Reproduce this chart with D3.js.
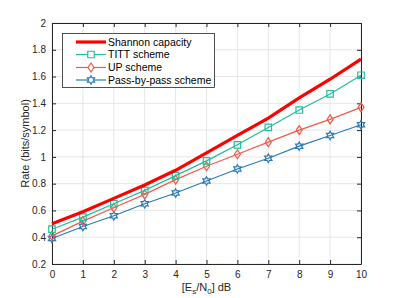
<!DOCTYPE html>
<html>
<head>
<meta charset="utf-8">
<script src="https://d3js.org/d3.v7.min.js"></script>
<style>
  body { margin: 0; background: #fff; }
  text { font-family: "Liberation Sans", Arial, sans-serif; }
</style>
</head>
<body>
<script>
var snr = [0, 1, 2, 3, 4, 5, 6, 7, 8, 9, 10];
var shannon = [0.50, 0.59, 0.69, 0.79, 0.90, 1.03, 1.16, 1.29, 1.44, 1.58, 1.73];
var titt = [0.46, 0.55, 0.65, 0.75, 0.86, 0.97, 1.09, 1.22, 1.35, 1.47, 1.61];
var up = [0.41, 0.52, 0.62, 0.72, 0.83, 0.93, 1.02, 1.11, 1.20, 1.28, 1.37];
var pbp = [0.39, 0.48, 0.56, 0.65, 0.73, 0.82, 0.91, 0.99, 1.08, 1.16, 1.24];
var xTicks = [0, 1, 2, 3, 4, 5, 6, 7, 8, 9, 10];
var yTicks = [0.2, 0.4, 0.6, 0.8, 1, 1.2, 1.4, 1.6, 1.8, 2];

var W = 399, H = 298;
var m = {left: 52, right: 38, top: 23, bottom: 34};

var svg = d3.select("body").append("svg")
  .attr("width", W).attr("height", H);

var x = d3.scaleLinear().domain([0, 10]).range([m.left, W - m.right]);
var y = d3.scaleLinear().domain([0.2, 2]).range([H - m.bottom, m.top]);

// grid
svg.append("g").selectAll("line").data(xTicks).enter().append("line")
  .attr("x1", d => x(d)).attr("x2", d => x(d))
  .attr("y1", y(0.2)).attr("y2", y(2))
  .attr("stroke", "#e6e6e6").attr("stroke-width", 1);
svg.append("g").selectAll("line").data(yTicks).enter().append("line")
  .attr("y1", d => y(d)).attr("y2", d => y(d))
  .attr("x1", x(0)).attr("x2", x(10))
  .attr("stroke", "#e6e6e6").attr("stroke-width", 1);

// axes
function styleAxis(g) {
  g.select(".domain").attr("stroke", "#262626");
  g.selectAll(".tick line").attr("stroke", "#262626");
  g.selectAll("text").attr("fill", "#262626").style("font-size", "10px")
    .style("font-family", "Liberation Sans, Arial, sans-serif");
}
svg.append("g").attr("transform", "translate(0," + y(0.2) + ")")
  .call(d3.axisBottom(x).tickValues(xTicks).tickSize(-4).tickSizeOuter(0).tickPadding(7))
  .call(styleAxis);
svg.append("g").attr("transform", "translate(0," + y(2) + ")")
  .call(d3.axisTop(x).tickValues(xTicks).tickSize(-4).tickSizeOuter(0).tickFormat(""))
  .call(styleAxis);
svg.append("g").attr("transform", "translate(" + x(0) + ",0)")
  .call(d3.axisLeft(y).tickValues(yTicks).tickSize(-4).tickSizeOuter(0).tickPadding(6)
    .tickFormat(d => d3.format("")(+d.toFixed(1))))
  .call(styleAxis);
svg.append("g").attr("transform", "translate(" + x(10) + ",0)")
  .call(d3.axisRight(y).tickValues(yTicks).tickSize(-4).tickSizeOuter(0).tickFormat(""))
  .call(styleAxis);

// labels
var xl = svg.append("text").attr("x", (x(0) + x(10)) / 2).attr("y", 291)
  .attr("text-anchor", "middle").attr("fill", "#262626").style("font-size", "11px");
xl.append("tspan").text("[E");
xl.append("tspan").text("s").attr("dy", 3).style("font-size", "8px");
xl.append("tspan").text("/N").attr("dy", -3);
xl.append("tspan").text("0").attr("dy", 3).style("font-size", "8px");
xl.append("tspan").text("] dB").attr("dy", -3);

svg.append("text")
  .attr("transform", "translate(29," + ((y(0.2) + y(2)) / 2) + ") rotate(-90)")
  .attr("text-anchor", "middle").attr("fill", "#262626").style("font-size", "11px")
  .text("Rate (bits/symbol)");

var series = [
  {name: "Shannon capacity", vals: shannon, color: "#ff0000", width: 3.2, marker: null},
  {name: "TITT scheme", vals: titt, color: "#1fc09b", width: 1.2, marker: "square"},
  {name: "UP scheme", vals: up, color: "#f25a48", width: 1.2, marker: "diamond"},
  {name: "Pass-by-pass scheme", vals: pbp, color: "#2a7bb8", width: 1.2, marker: "star"}
];

function markerPath(type) {
  if (type === "square") return d3.symbol().type(d3.symbolSquare).size(42)();
  if (type === "diamond") {
    return "M0,-4.5L3,0L0,4.5L-3,0Z";
  }
  // hexagram
  var pts = [];
  for (var i = 0; i < 12; i++) {
    var r = i % 2 === 0 ? 4.2 : 2.4;
    var a = -Math.PI / 2 + i * Math.PI / 6;
    pts.push([r * Math.cos(a), r * Math.sin(a)]);
  }
  return "M" + pts.join("L") + "Z";
}

var line = d3.line().x((d, i) => x(snr[i])).y(d => y(d));

series.slice().reverse().forEach(function(s) {
  svg.append("path").datum(s.vals)
    .attr("d", line).attr("fill", "none")
    .attr("stroke", s.color).attr("stroke-width", s.width);
  if (s.marker) {
    svg.append("g").selectAll("path").data(s.vals).enter().append("path")
      .attr("d", markerPath(s.marker))
      .attr("transform", (d, i) => "translate(" + x(snr[i]) + "," + y(d) + ")")
      .attr("fill", "none").attr("stroke", s.color).attr("stroke-width", 1.2);
  }
});

// legend
var lg = svg.append("g");
lg.append("rect").attr("x", 62.5).attr("y", 33.5).attr("width", 152).attr("height", 54)
  .attr("fill", "#fff").attr("stroke", "#262626").attr("stroke-width", 0.8);
var rowsY = [42, 54.5, 67.5, 80];
series.forEach(function(s, i) {
  var ly = rowsY[i];
  lg.append("line").attr("x1", 76).attr("x2", 106).attr("y1", ly).attr("y2", ly)
    .attr("stroke", s.color).attr("stroke-width", s.width);
  if (s.marker) {
    lg.append("path").attr("d", markerPath(s.marker))
      .attr("transform", "translate(91," + ly + ")")
      .attr("fill", "#fff").attr("stroke", s.color).attr("stroke-width", 1.2);
  }
  lg.append("text").attr("x", 108).attr("y", ly + 3.8)
    .attr("fill", "#000").style("font-size", "10.5px").text(s.name);
});
</script>
</body>
</html>
